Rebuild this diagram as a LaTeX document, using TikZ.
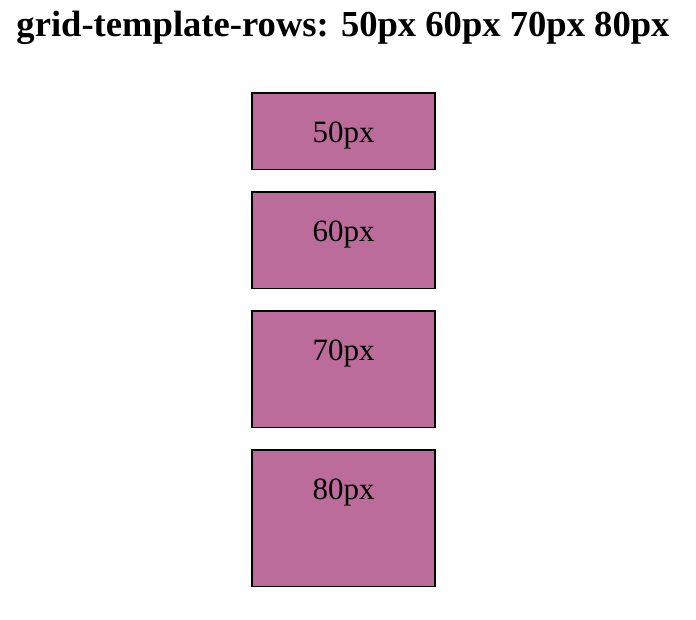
\documentclass[tikz,border=0pt]{standalone}
\usepackage{fontspec}
\setmainfont{Liberation Serif}
\usepackage{tikz}
\definecolor{rangee}{RGB}{187,108,154}

\begin{document}
\begin{tikzpicture}[x=1pt, y=-1pt]
\useasboundingbox (0,0) rectangle (696,619);

% Le titre
\node[font=\fontsize{36.6}{40}\selectfont\bfseries, anchor=base] (titre) at (343,36) {grid-template-rows: 50px 60px 70px 80px};

% Les rangées de la grille
\foreach \h/\y [count=\ri] in {78/92, 98/191, 118/310, 138/449}
\node[rectangle, draw=black, line width=1.6pt, fill=rangee, minimum width=183.5pt, minimum height=\h pt-1.5pt, anchor=north, inner sep=0pt] (R\ri) at (343.5,\y) {};

% Les étiquettes des rangées
\foreach \h [count=\ri] in {50,60,70,80}
\node[font=\fontsize{31}{34}\selectfont, anchor=base] (T\ri) at ([yshift=-50pt]R\ri.north) {\h px};

\end{tikzpicture}
\end{document}
